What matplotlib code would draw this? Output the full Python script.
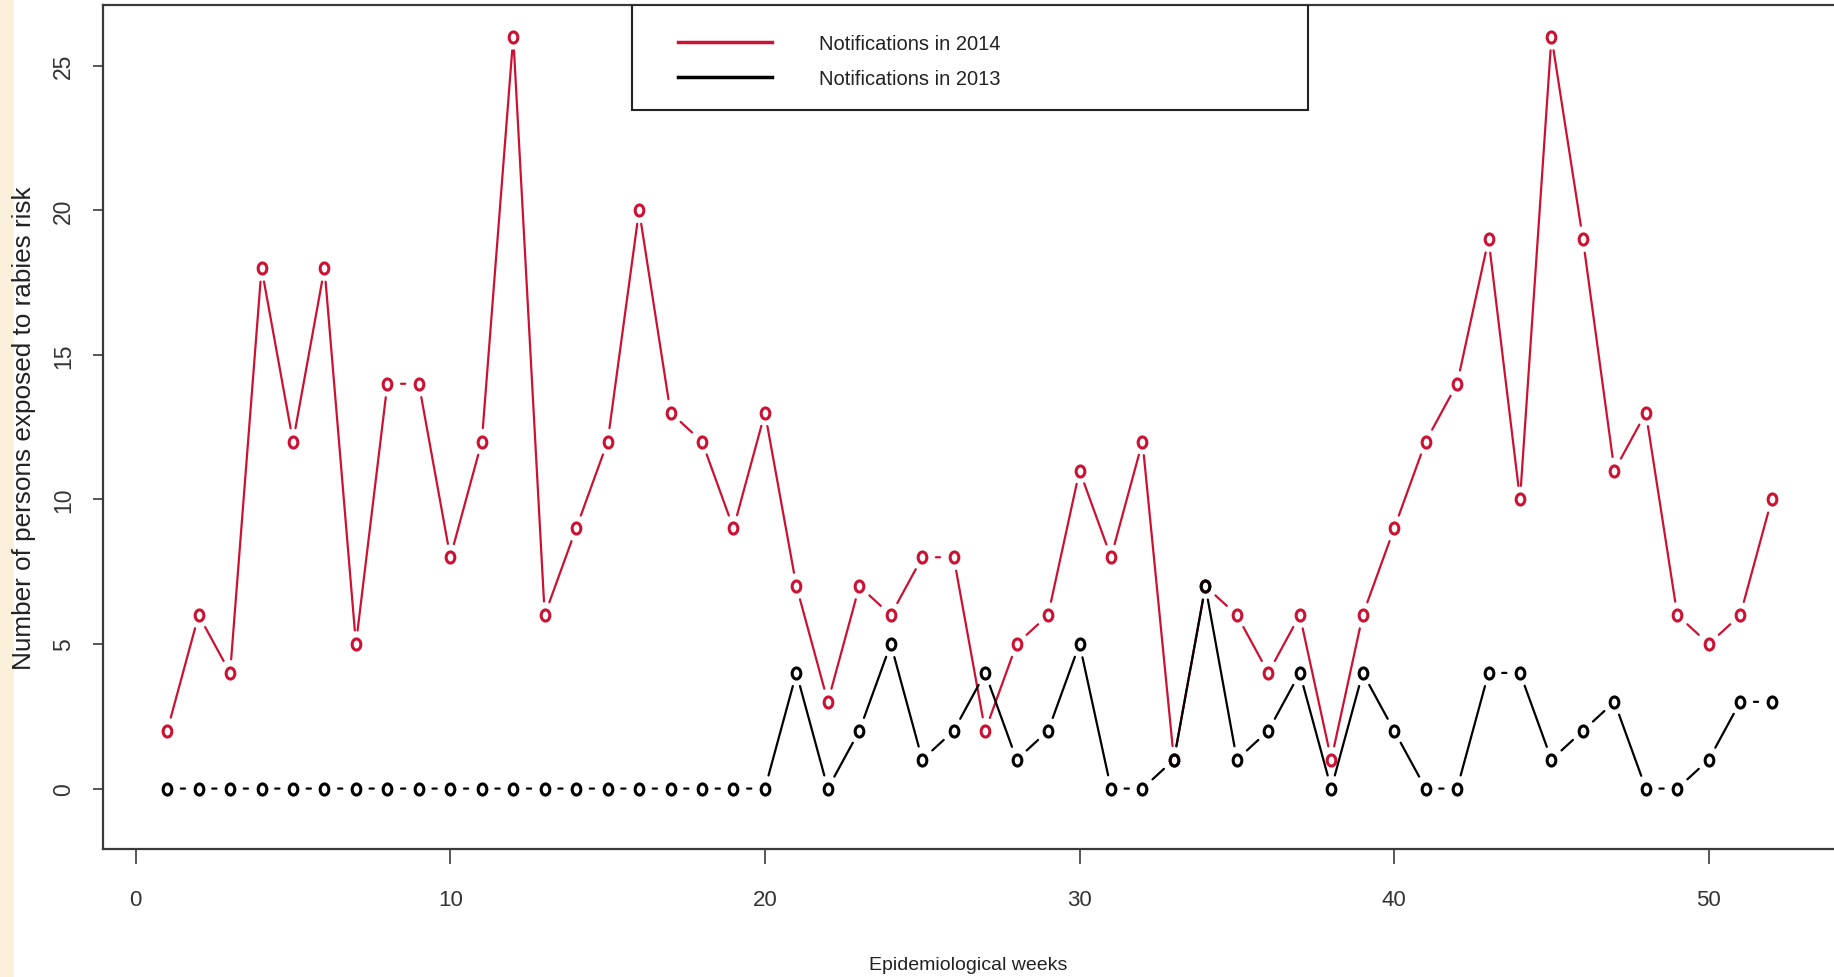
import matplotlib
matplotlib.use("Agg")
import matplotlib.pyplot as plt
from matplotlib.path import Path
from matplotlib.transforms import Affine2D
from matplotlib.lines import Line2D
from matplotlib.patches import Rectangle

weeks = list(range(1, 53))
notif_2014 = [2, 6, 4, 18, 12, 18, 5, 14, 14, 8, 12, 26, 6, 9, 12, 20, 13, 12, 9, 13,
              7, 3, 7, 6, 8, 8, 2, 5, 6, 11, 8, 12, 1, 7, 6, 4, 6, 1, 6, 9,
              12, 14, 19, 10, 26, 19, 11, 13, 6, 5, 6, 10]
notif_2013 = [0, 0, 0, 0, 0, 0, 0, 0, 0, 0, 0, 0, 0, 0, 0, 0, 0, 0, 0, 0,
              4, 0, 2, 5, 1, 2, 4, 1, 2, 5, 0, 0, 1, 7, 1, 2, 4, 0, 4, 2,
              0, 0, 4, 4, 1, 2, 3, 0, 0, 1, 3, 3]
x_ticks = [0, 10, 20, 30, 40, 50]
y_ticks = [0, 5, 10, 15, 20, 25]
series_labels = ["Notifications in 2014", "Notifications in 2013"]
series_colors = ["#CC1133", "#000000"]

NARROW = ["Liberation Sans Narrow", "Liberation Sans", "DejaVu Sans"]
NORMAL = ["Liberation Sans", "DejaVu Sans"]

W, H = 1834, 978
fig = plt.figure(figsize=(W / 100, H / 100), dpi=100)
fig.patch.set_facecolor("white")
fig.patches.append(Rectangle((0, 0), 14 / W, 1, transform=fig.transFigure,
                             facecolor="#FBF0DA", edgecolor="none", zorder=-10))

ax_l, ax_r, ax_t, ax_b = 103, 1834, 6, 850
ax = fig.add_axes([ax_l / W, 1 - ax_b / H, (ax_r - ax_l) / W, (ax_b - ax_t) / H])
ax.set_xlim(-1.04, 53.98)
ax.set_ylim(-2.09, 27.10)

ell = Path.unit_circle().transformed(Affine2D().scale(0.78, 1.0))
GAP = 9.8  # points between point centre and line end (R type="b")


def draw_b(xs, ys, color, z):
    for i in range(len(xs) - 1):
        ax.annotate("", xy=(xs[i + 1], ys[i + 1]), xytext=(xs[i], ys[i]),
                    xycoords="data", textcoords="data",
                    arrowprops=dict(arrowstyle="-", color=color, lw=1.6,
                                    shrinkA=GAP, shrinkB=GAP),
                    zorder=z, annotation_clip=False)
    ax.plot(xs, ys, linestyle="none", marker=ell, markersize=8,
            markerfacecolor="none", markeredgecolor=color, markeredgewidth=2.2,
            zorder=z + 0.5)


draw_b(weeks, notif_2014, series_colors[0], 2)
draw_b(weeks, notif_2013, series_colors[1], 3)

for side in ["left", "bottom", "top"]:
    ax.spines[side].set_color("#3a3a3a")
    ax.spines[side].set_linewidth(1.6)
ax.spines["right"].set_visible(False)

ax.set_xticks(x_ticks)
ax.set_yticks(y_ticks)
ax.tick_params(axis="x", length=11, width=1.2, color="#3a3a3a", pad=18,
               labelsize=16, labelcolor="#333333")
ax.tick_params(axis="y", length=7, width=1.2, color="#3a3a3a", pad=13,
               labelsize=16.5, labelcolor="#333333")
for lab in ax.get_xticklabels():
    lab.set_family(NARROW)
for lab in ax.get_yticklabels():
    lab.set_family(NORMAL)
    lab.set_rotation(90)
    lab.set_va("center")

ax.set_xlabel("Epidemiological weeks", fontsize=14, family=NARROW,
              color="#222222", labelpad=33)
ax.set_ylabel("Number of persons exposed to rabies risk", fontsize=18.8,
              family=NORMAL, color="#222222", labelpad=12)

# legend frame and legend
aw, ah = ax_r - ax_l, ax_b - ax_t
ax.add_patch(Rectangle(((632 - ax_l) / aw, (ax_b - 111) / ah),
                       (1308 - 632) / aw, (111 - ax_t) / ah,
                       transform=ax.transAxes, facecolor="white",
                       edgecolor="#222222", linewidth=1.5, zorder=5))
handles = [Line2D([], [], color=c, lw=2.5) for c in series_colors]
leg = ax.legend(handles, series_labels, loc="center left",
                bbox_to_anchor=((678 - ax_l) / aw, (ax_b - 62) / ah),
                frameon=False, borderpad=0, borderaxespad=0,
                handlelength=4.67, handletextpad=2.33, labelspacing=0.8,
                prop={"family": NARROW, "size": 14.5})
leg.set_zorder(6)
for t in leg.get_texts():
    t.set_color("#222222")

fig.savefig("out.png", dpi=100)
